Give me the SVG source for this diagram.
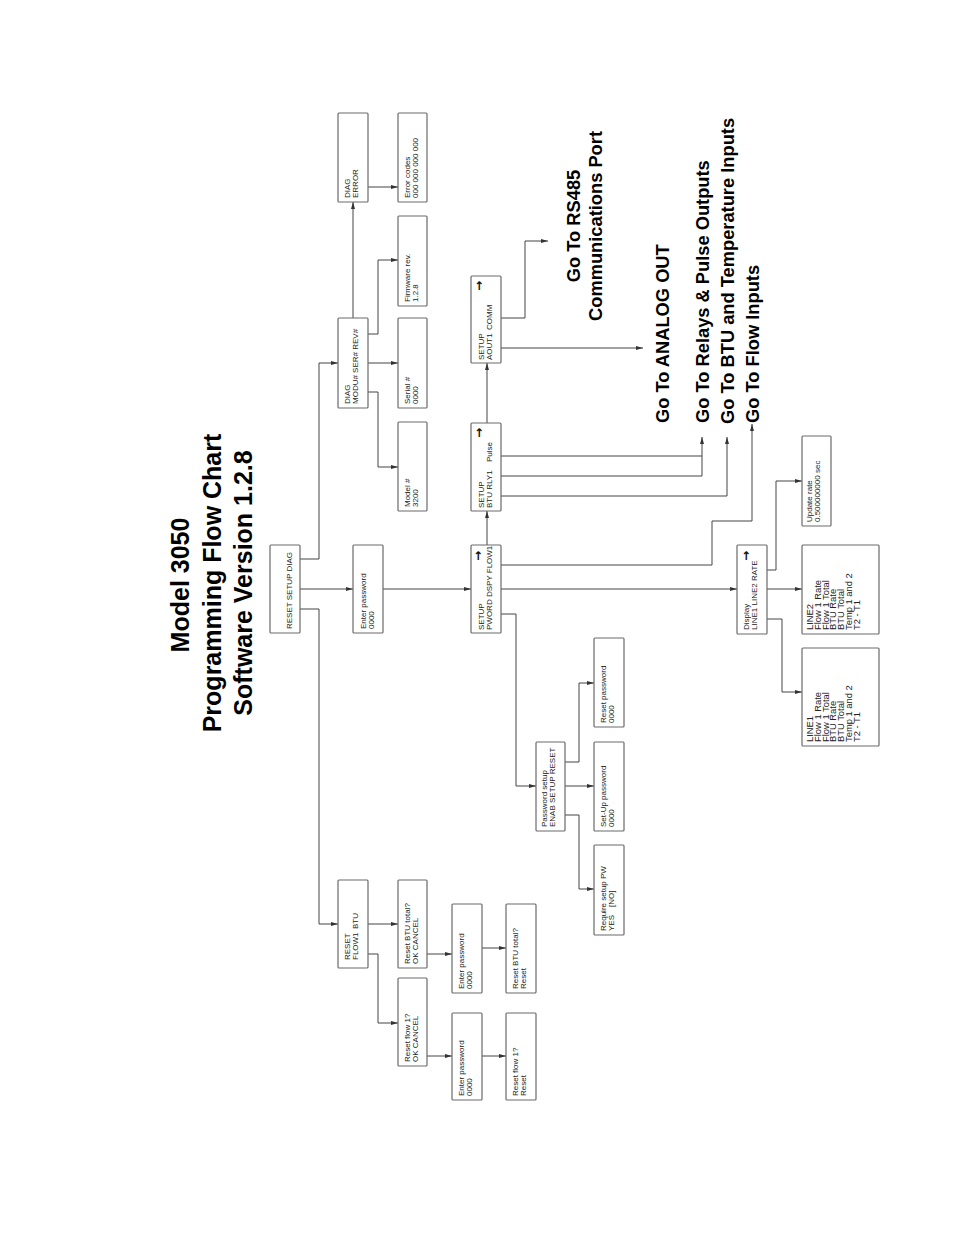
<svg xmlns="http://www.w3.org/2000/svg" width="954" height="1235" viewBox="0 0 954 1235">
<style>
.bg{fill:#fff}
.box rect{fill:#fff;stroke:#6a6a6a;stroke-width:1.2}
.t{font-family:"Liberation Sans",Arial,sans-serif;font-size:8px;fill:#222}
.tl{font-family:"Liberation Sans",Arial,sans-serif;font-size:9.4px;fill:#222}
.ar{font-family:"DejaVu Sans",sans-serif;font-size:12px;font-weight:bold;fill:#111}
.title{font-family:"Liberation Sans",Arial,sans-serif;font-size:25px;font-weight:bold;fill:#000}
.go{font-family:"Liberation Sans",Arial,sans-serif;font-size:18.3px;font-weight:bold;fill:#000}
#connectors path{fill:none;stroke:#444;stroke-width:1}
.a{marker-end:url(#ah)}
</style>
<defs>
<marker id="ah" viewBox="0 0 7 4" refX="7" refY="2" markerWidth="7" markerHeight="4" markerUnits="userSpaceOnUse" orient="auto"><path d="M0,0 L7,2 L0,4 z" fill="#333"/></marker>
</defs>
<rect class="bg" x="0" y="0" width="954" height="1235"/>

<g id="title">
<text class="title" text-anchor="middle" transform="translate(189,585) rotate(-90)">Model 3050</text>
<text class="title" text-anchor="middle" transform="translate(221,583) rotate(-90)">Programming Flow Chart</text>
<text class="title" text-anchor="middle" transform="translate(252,583) rotate(-90)">Software Version 1.2.8</text>
</g>

<g id="connectors">
<path class="a" d="M300,559 H319 V363 H338"/>
<path class="a" d="M300,589 H353"/>
<path class="a" d="M300,609 H319 V924 H338"/>
<path class="a" d="M353,318 V202"/>
<path class="a" d="M368,187 H398"/>
<path class="a" d="M368,334 H378 V260 H398"/>
<path class="a" d="M368,363 H398"/>
<path class="a" d="M368,392 H378 V467 H398"/>
<path class="a" d="M383,589 H471"/>
<path class="a" d="M487,545 V511"/>
<path class="a" d="M487,423 V363"/>
<path class="a" d="M501,318 H525 V241 H548"/>
<path class="a" d="M501,348 H643"/>
<path d="M501,456 H702"/>
<path class="a" d="M501,476 H702 V437"/>
<path class="a" d="M501,496 H727 V437"/>
<path class="a" d="M501,565 H712 V521 H752 V424"/>
<path class="a" d="M501,589 H737"/>
<path class="a" d="M501,614 H516 V786 H536"/>
<path class="a" d="M565,762 H579 V683 H594"/>
<path class="a" d="M565,786 H594"/>
<path class="a" d="M565,815 H579 V889 H594"/>
<path class="a" d="M767,570 H776 V481 H802"/>
<path class="a" d="M767,589 H802"/>
<path class="a" d="M767,619 H782 V692 H802"/>
<path class="a" d="M368,924 H398"/>
<path class="a" d="M368,954 H378 V1023 H398"/>
<path class="a" d="M427,954 H452"/>
<path class="a" d="M482,948 H506"/>
<path class="a" d="M427,1056 H452"/>
<path class="a" d="M482,1056 H506"/>
</g>

<g id="goto">
<text class="go" text-anchor="middle" transform="translate(580,226) rotate(-90)">Go To RS485</text>
<text class="go" text-anchor="middle" transform="translate(602,226) rotate(-90)">Communications Port</text>
<text class="go" transform="translate(669,423) rotate(-90)">Go To ANALOG OUT</text>
<text class="go" transform="translate(709,423) rotate(-90)">Go To Relays &amp; Pulse Outputs</text>
<text class="go" transform="translate(734,424) rotate(-90)">Go To BTU and Temperature Inputs</text>
<text class="go" transform="translate(759,423) rotate(-90)">Go To Flow Inputs</text>
</g>

<g id="n-reset-setup-diag" class="box"><rect x="270" y="545" width="30" height="88" rx="1"/>
<text class="t" transform="translate(292,629) rotate(-90)">RESET SETUP DIAG</text></g>

<g id="n-enter-password-main" class="box"><rect x="353" y="545" width="30" height="88" rx="1"/>
<text class="t" transform="translate(366,629) rotate(-90)"><tspan x="0">Enter password</tspan><tspan x="0" dy="7.5">0000</tspan></text></g>

<g id="n-diag-modu" class="box"><rect x="338" y="318" width="30" height="90" rx="1"/>
<text class="t" transform="translate(350,404) rotate(-90)"><tspan x="0">DIAG</tspan><tspan x="0" dy="7.5">MODU# SER# REV#</tspan></text></g>

<g id="n-diag-error" class="box"><rect x="338" y="113" width="30" height="89" rx="1"/>
<text class="t" transform="translate(350,198) rotate(-90)"><tspan x="0">DIAG</tspan><tspan x="0" dy="7.5">ERROR</tspan></text></g>

<g id="n-error-codes" class="box"><rect x="398" y="113" width="29" height="89" rx="1"/>
<text class="t" transform="translate(410,198) rotate(-90)"><tspan x="0">Error codes</tspan><tspan x="0" dy="7.5">000 000 000 000</tspan></text></g>

<g id="n-firmware" class="box"><rect x="398" y="216" width="29" height="90" rx="1"/>
<text class="t" transform="translate(410,302) rotate(-90)"><tspan x="0">Firmware rev.</tspan><tspan x="0" dy="7.5">1.2.8</tspan></text></g>

<g id="n-serial" class="box"><rect x="398" y="318" width="29" height="90" rx="1"/>
<text class="t" transform="translate(410,404) rotate(-90)"><tspan x="0">Serial #</tspan><tspan x="0" dy="7.5">0000</tspan></text></g>

<g id="n-model" class="box"><rect x="398" y="422" width="29" height="89" rx="1"/>
<text class="t" transform="translate(410,507) rotate(-90)"><tspan x="0">Model #</tspan><tspan x="0" dy="7.5">3200</tspan></text></g>

<g id="n-setup-pword" class="box"><rect x="471" y="545" width="30" height="88" rx="1"/>
<text class="t" transform="translate(484,630) rotate(-90)"><tspan x="0">SETUP</tspan><tspan x="0" dy="7.5">PWORD DSPY FLOW1</tspan></text>
<text class="ar" text-anchor="end" transform="translate(482,551) rotate(-90)">→</text></g>

<g id="n-setup-btu" class="box"><rect x="471" y="423" width="30" height="88" rx="1"/>
<text class="t" transform="translate(484,508) rotate(-90)"><tspan x="0">SETUP</tspan><tspan x="0" dy="7.5">BTU RLY1</tspan><tspan x="46">Pulse</tspan></text>
<text class="ar" text-anchor="end" transform="translate(483,428) rotate(-90)">→</text></g>

<g id="n-setup-aout" class="box"><rect x="471" y="276" width="30" height="87" rx="1"/>
<text class="t" transform="translate(484,360) rotate(-90)"><tspan x="0">SETUP</tspan><tspan x="0" dy="7.5">AOUT1</tspan><tspan x="30">COMM</tspan></text>
<text class="ar" text-anchor="end" transform="translate(483,281) rotate(-90)">→</text></g>

<g id="n-display" class="box"><rect x="737" y="545" width="30" height="89" rx="1"/>
<text class="t" transform="translate(749,630) rotate(-90)"><tspan x="0">Display</tspan><tspan x="0" dy="7.5">LINE1 LINE2 RATE</tspan></text>
<text class="ar" text-anchor="end" transform="translate(750,551) rotate(-90)">→</text></g>

<g id="n-update-rate" class="box"><rect x="802" y="436" width="29" height="90" rx="1"/>
<text class="t" transform="translate(812,522) rotate(-90)"><tspan x="0">Update rate</tspan><tspan x="0" dy="7.5">0.500000000 sec</tspan></text></g>

<g id="n-line2" class="box"><rect x="802" y="545" width="77" height="89" rx="1"/>
<text class="tl" transform="translate(813,630) rotate(-90)"><tspan x="0">LINE2</tspan><tspan x="0" dy="7.8">Flow 1 Rate</tspan><tspan x="0" dy="7.8">Flow 1 Total</tspan><tspan x="0" dy="7.8">BTU Rate</tspan><tspan x="0" dy="7.8">BTU Total</tspan><tspan x="0" dy="7.8">Temp 1 and 2</tspan><tspan x="0" dy="7.8">T2 - T1</tspan></text></g>

<g id="n-line1" class="box"><rect x="802" y="648" width="77" height="98" rx="1"/>
<text class="tl" transform="translate(813,742) rotate(-90)"><tspan x="0">LINE1</tspan><tspan x="0" dy="7.8">Flow 1 Rate</tspan><tspan x="0" dy="7.8">Flow 1 Total</tspan><tspan x="0" dy="7.8">BTU Rate</tspan><tspan x="0" dy="7.8">BTU Total</tspan><tspan x="0" dy="7.8">Temp 1 and 2</tspan><tspan x="0" dy="7.8">T2 - T1</tspan></text></g>

<g id="n-password-setup" class="box"><rect x="536" y="742" width="29" height="89" rx="1"/>
<text class="t" transform="translate(547,827) rotate(-90)"><tspan x="0">Password setup</tspan><tspan x="0" dy="7.5">ENAB SETUP RESET</tspan></text></g>

<g id="n-reset-password" class="box"><rect x="594" y="638" width="30" height="89" rx="1"/>
<text class="t" transform="translate(606,723) rotate(-90)"><tspan x="0">Reset password</tspan><tspan x="0" dy="7.5">0000</tspan></text></g>

<g id="n-setup-password" class="box"><rect x="594" y="742" width="30" height="89" rx="1"/>
<text class="t" transform="translate(606,827) rotate(-90)"><tspan x="0">Set-Up password</tspan><tspan x="0" dy="7.5">0000</tspan></text></g>

<g id="n-require-pw" class="box"><rect x="594" y="845" width="30" height="90" rx="1"/>
<text class="t" transform="translate(606,931) rotate(-90)"><tspan x="0">Require setup PW</tspan><tspan x="0" dy="7.5">YES</tspan><tspan x="24">[NO]</tspan></text></g>

<g id="n-reset" class="box"><rect x="338" y="880" width="30" height="88" rx="1"/>
<text class="t" transform="translate(350,960) rotate(-90)"><tspan x="0">RESET</tspan><tspan x="0" dy="7.5">FLOW1</tspan><tspan x="31">BTU</tspan></text></g>

<g id="n-reset-btu" class="box"><rect x="398" y="880" width="29" height="88" rx="1"/>
<text class="t" transform="translate(410,964) rotate(-90)"><tspan x="0">Reset BTU total?</tspan><tspan x="0" dy="7.5">OK CANCEL</tspan></text></g>

<g id="n-enter-password-btu" class="box"><rect x="452" y="904" width="30" height="89" rx="1"/>
<text class="t" transform="translate(464,989) rotate(-90)"><tspan x="0">Enter password</tspan><tspan x="0" dy="7.5">0000</tspan></text></g>

<g id="n-reset-btu-confirm" class="box"><rect x="506" y="904" width="30" height="89" rx="1"/>
<text class="t" transform="translate(518,989) rotate(-90)"><tspan x="0">Reset BTU total?</tspan><tspan x="0" dy="7.5">Reset</tspan></text></g>

<g id="n-reset-flow" class="box"><rect x="398" y="978" width="29" height="88" rx="1"/>
<text class="t" transform="translate(410,1062) rotate(-90)"><tspan x="0">Reset flow 1?</tspan><tspan x="0" dy="7.5">OK CANCEL</tspan></text></g>

<g id="n-enter-password-flow" class="box"><rect x="452" y="1013" width="30" height="87" rx="1"/>
<text class="t" transform="translate(464,1096) rotate(-90)"><tspan x="0">Enter password</tspan><tspan x="0" dy="7.5">0000</tspan></text></g>

<g id="n-reset-flow-confirm" class="box"><rect x="506" y="1013" width="30" height="87" rx="1"/>
<text class="t" transform="translate(518,1096) rotate(-90)"><tspan x="0">Reset flow 1?</tspan><tspan x="0" dy="7.5">Reset</tspan></text></g>
</svg>
